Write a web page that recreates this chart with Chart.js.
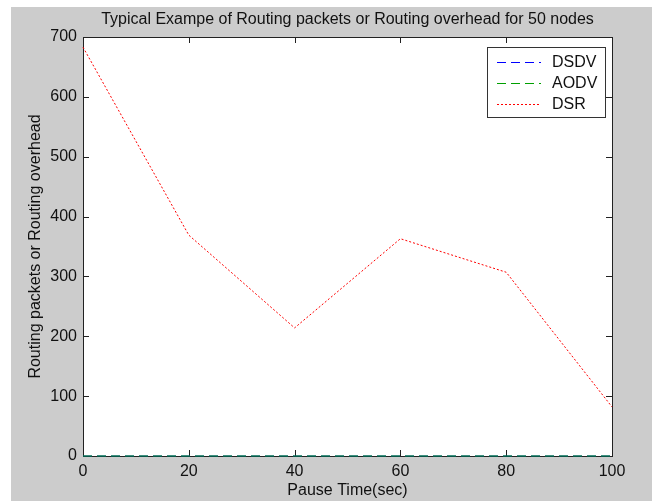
<!DOCTYPE html>
<html>
<head>
<meta charset="utf-8">
<script src="https://cdn.jsdelivr.net/npm/chart.js@4"></script>
<style>
  html, body { margin: 0; padding: 0; background: #fff; }
  #wrap { width: 652px; height: 501px; }
</style>
</head>
<body>
<div id="wrap"><canvas id="routingChart" width="652" height="501"></canvas></div>
<script>
const pauseTimes = [0, 20, 40, 60, 80, 100];
const dsdvPackets = [0, 0, 0, 0, 0, 0];
const aodvPackets = [0, 0, 0, 0, 0, 0];
const dsrPackets = [683, 369, 214, 363, 307, 82];
const seriesNames = ['DSDV', 'AODV', 'DSR'];
const chartTitle = 'Typical Exampe of Routing packets or Routing overhead for 50 nodes';

const FONT = 'Arial, "Liberation Sans", sans-serif';

function toPoints(values) {
    return pauseTimes.map((t, i) => ({ x: t, y: values[i] }));
}

// background, box, inward ticks, legend and title (MATLAB look)
const matlabFrame = {
    id: 'matlabFrame',
    beforeDraw(chart) {
        const ctx = chart.ctx;
        const a = chart.chartArea;
        ctx.save();
        ctx.fillStyle = '#cccccc';
        ctx.fillRect(11, 7, chart.width - 11, chart.height - 7);
        ctx.fillStyle = '#ffffff';
        ctx.fillRect(a.left, a.top, a.right - a.left, a.bottom - a.top);
        ctx.restore();
    },
    beforeDatasetsDraw(chart) {
        const ctx = chart.ctx;
        const a = chart.chartArea;
        const xs = chart.scales.x;
        const ys = chart.scales.y;
        const tick = 6;
        ctx.save();
        ctx.strokeStyle = '#222';
        ctx.lineWidth = 1;
        ctx.beginPath();
        xs.ticks.forEach(t => {
            const px = Math.round(xs.getPixelForValue(t.value)) + 0.5;
            ctx.moveTo(px, a.bottom); ctx.lineTo(px, a.bottom - tick);
            ctx.moveTo(px, a.top); ctx.lineTo(px, a.top + tick);
        });
        ys.ticks.forEach(t => {
            const py = Math.round(ys.getPixelForValue(t.value)) + 0.5;
            ctx.moveTo(a.left, py); ctx.lineTo(a.left + tick, py);
            ctx.moveTo(a.right, py); ctx.lineTo(a.right - tick, py);
        });
        ctx.stroke();
        ctx.strokeRect(Math.round(a.left) + 0.5, Math.round(a.top) + 0.5,
            Math.round(a.right - a.left), Math.round(a.bottom - a.top));
        ctx.restore();
    },
    afterDraw(chart) {
        const ctx = chart.ctx;
        const a = chart.chartArea;
        ctx.save();
        // title
        ctx.fillStyle = '#111';
        ctx.font = '16px ' + FONT;
        ctx.textAlign = 'center';
        ctx.textBaseline = 'middle';
        ctx.fillText(chartTitle, (a.left + a.right) / 2, 20);

        // legend box
        const bx = 487.5, by = 47.5, bw = 118, bh = 70;
        ctx.fillStyle = '#fff';
        ctx.fillRect(bx, by, bw, bh);
        ctx.strokeStyle = '#333';
        ctx.lineWidth = 1;
        ctx.strokeRect(bx, by, bw, bh);
        ctx.textAlign = 'left';
        chart.data.datasets.forEach((ds, i) => {
            const y = 62 + i * 21;
            ctx.strokeStyle = ds.borderColor;
            ctx.setLineDash(ds.borderDash || []);
            ctx.beginPath();
            ctx.moveTo(497, y + 0.5);
            ctx.lineTo(541, y + 0.5);
            ctx.stroke();
            ctx.setLineDash([]);
            ctx.fillStyle = '#111';
            ctx.fillText(ds.label, 552, y + 1);
        });
        ctx.restore();
    }
};

new Chart(document.getElementById('routingChart'), {
    type: 'line',
    data: {
        datasets: [
            { label: seriesNames[0], data: toPoints(dsdvPackets), borderColor: '#0000ff',
              borderDash: [9, 5], order: 3 },
            { label: seriesNames[1], data: toPoints(aodvPackets), borderColor: '#00a000',
              borderDash: [9, 5], order: 2 },
            { label: seriesNames[2], data: toPoints(dsrPackets), borderColor: '#ff0000',
              borderDash: [2, 2], order: 1 }
        ].map(ds => Object.assign(ds, {
            borderWidth: 1, pointRadius: 0, tension: 0, fill: false, clip: false
        }))
    },
    options: {
        responsive: false,
        animation: false,
        layout: { padding: { top: 37, right: 40, left: 0, bottom: 0 } },
        plugins: { legend: { display: false }, title: { display: false }, tooltip: { enabled: false } },
        scales: {
            x: {
                type: 'linear', min: 0, max: 100,
                ticks: { stepSize: 20, color: '#111', font: { size: 16, family: FONT }, padding: 6, maxRotation: 0 },
                grid: { display: false, drawTicks: false },
                border: { display: false },
                title: { display: true, text: 'Pause Time(sec)', color: '#111',
                         font: { size: 16, family: FONT }, padding: { top: 0, bottom: 1 } },
                afterFit(scale) { scale.height = 45; }
            },
            y: {
                min: 0, max: 700,
                ticks: { stepSize: 100, color: '#111', font: { size: 16, family: FONT }, padding: 6 },
                grid: { display: false, drawTicks: false },
                border: { display: false },
                title: { display: true, text: 'Routing packets or Routing overhead', color: '#111',
                         font: { size: 16, family: FONT }, padding: { top: 26, bottom: 0 } },
                afterFit(scale) { scale.width = 83; }
            }
        }
    },
    plugins: [matlabFrame]
});
</script>
</body>
</html>
